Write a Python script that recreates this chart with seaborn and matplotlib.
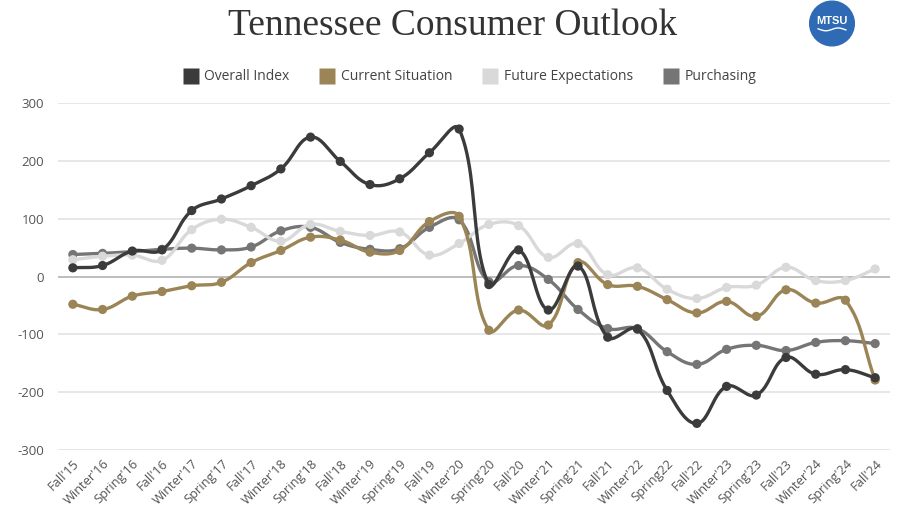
import numpy as np
import pandas as pd
import matplotlib
matplotlib.use("Agg")
import matplotlib.pyplot as plt
import seaborn as sns
from matplotlib.lines import Line2D
from matplotlib.patches import Circle

categories = ["Fall'15", "Winter'16", "Spring'16", "Fall'16", "Winter'17", "Spring'17",
              "Fall'17", "Winter'18", "Spring'18", "Fall'18", "Winter'19", "Spring'19",
              "Fall'19", "Winter'20", "Spring'20", "Fall'20", "Winter'21", "Spring'21",
              "Fall'21", "Winter'22", "Spring22", "Fall'22", "Winter'23", "Spring'23",
              "Fall'23", "Winter'24", "Spring'24", "Fall'24"]

overall_index = [15, 19, 44, 46, 114, 134, 157, 186, 241, 199, 159, 169, 214, 255,
                 -14, 46, -58, 18, -105, -91, -197, -254, -190, -205, -140, -169, -161, -175]
current_situation = [-48, -57, -34, -26, -16, -10, 24, 45, 68, 63, 42, 45, 95, 104,
                     -93, -58, -84, 24, -14, -17, -40, -63, -43, -69, -23, -46, -41, -179]
future_expectations = [29, 35, 37, 28, 81, 99, 85, 61, 90, 78, 71, 77, 37, 57,
                       90, 88, 33, 57, 3, 15, -22, -38, -19, -15, 16, -7, -7, 13]
purchasing = [38, 40, 43, 47, 49, 46, 51, 79, 85, 59, 47, 48, 85, 98,
              -9, 19, -5, -57, -90, -90, -130, -152, -126, -119, -128, -114, -111, -116]

series_names = ["Overall Index", "Current Situation", "Future Expectations", "Purchasing"]
series_values = [overall_index, current_situation, future_expectations, purchasing]
colors = ["#3b3b3b", "#9b8455", "#d9d9d9", "#757575"]

W, H = 905, 517
sns.set_theme(style="white")
plt.rcParams["font.family"] = ["Open Sans", "DejaVu Sans"]

fig = plt.figure(figsize=(W / 100, H / 100), dpi=100)
ax = fig.add_axes([58 / W, 1 - 450 / H, (890 - 58) / W, (450 - 103) / H])

XS, YS = 29.7, 0.58  # pixel scales used for spline smoothing


def smooth(xs, ys, tension=0.4, n=24):
    px = np.asarray(xs, float) * XS
    py = np.asarray(ys, float) * YS
    m = len(px)
    cp1 = np.zeros((m, 2))
    cp2 = np.zeros((m, 2))
    for i in range(m):
        p = np.array([px[i], py[i]])
        prev = np.array([px[max(i - 1, 0)], py[max(i - 1, 0)]])
        nxt = np.array([px[min(i + 1, m - 1)], py[min(i + 1, m - 1)]])
        d01 = np.hypot(*(p - prev))
        d12 = np.hypot(*(nxt - p))
        s = d01 + d12
        fa = tension * d01 / s if s else 0
        fb = tension * d12 / s if s else 0
        cp1[i] = p - fa * (nxt - prev)
        cp2[i] = p + fb * (nxt - prev)
    outx, outy = [], []
    t = np.linspace(0, 1, n)
    for i in range(m - 1):
        p0 = np.array([px[i], py[i]])
        p3 = np.array([px[i + 1], py[i + 1]])
        c1 = cp2[i]
        c2 = cp1[i + 1]
        b = ((1 - t) ** 3)[:, None] * p0 + (3 * (1 - t) ** 2 * t)[:, None] * c1 \
            + (3 * (1 - t) * t ** 2)[:, None] * c2 + (t ** 3)[:, None] * p3
        if i > 0:
            b = b[1:]
        outx.extend(b[:, 0] / XS)
        outy.extend(b[:, 1] / YS)
    return np.array(outx), np.array(outy)


# gridlines
for v in [-300, -200, -100, 100, 200, 300]:
    ax.axhline(v, color="#e3e3e3", lw=1.2, zorder=0)
ax.axhline(0, color="#bdbdbd", lw=1.4, zorder=0)

x_pos = np.arange(len(categories))
order = [3, 2, 1, 0]
for k, idx in enumerate(order):
    name, vals, col = series_names[idx], series_values[idx], colors[idx]
    sx, sy = smooth(x_pos, vals)
    curve = pd.DataFrame({"x": sx, "y": sy})
    sns.lineplot(data=curve, x="x", y="y", ax=ax, color=col, lw=2.4,
                 sort=False, estimator=None, zorder=2 + k)
    pts = pd.DataFrame({"x": x_pos, "y": vals})
    sns.scatterplot(data=pts, x="x", y="y", ax=ax, color=col, s=44,
                    edgecolor="none", zorder=2 + k, clip_on=False)

ax.set_xlim(-0.5, len(categories) - 0.5)
ax.set_ylim(-300, 300)
ax.set_yticks([-300, -200, -100, 0, 100, 200, 300])
ax.set_yticklabels(["-300", "-200", "-100", "0", "100", "200", "300"])
ax.set_xticks(x_pos)
ax.set_xticklabels(categories, rotation=45, ha="right", va="top", rotation_mode="anchor")
ax.tick_params(axis="y", colors="#555555", labelsize=9.5, length=0, pad=10)
ax.tick_params(axis="x", colors="#555555", labelsize=9.3, length=0, pad=5)
for lab in ax.get_xticklabels():
    lab.set_color("#555555")
ax.set_xlabel("")
ax.set_ylabel("")
for sp in ax.spines.values():
    sp.set_visible(False)
if ax.get_legend():
    ax.get_legend().remove()

# title
fig.text(0.50, 1 - 26 / H, "Tennessee Consumer Outlook", ha="center", va="center",
         fontsize=27, color="#333333", family=["Liberation Serif", "DejaVu Serif"])

# legend
handles = [Line2D([0], [0], marker="s", color="none", markerfacecolor=c,
                  markeredgecolor="none", markersize=12) for c in colors]
fig.legend(handles, series_names, loc="center", bbox_to_anchor=(470 / W, 1 - 77 / H),
           ncol=4, frameon=False, fontsize=10, handletextpad=0.5, columnspacing=2.2,
           labelcolor="#444444", handlelength=1.0)

# logo
lax = fig.add_axes([806 / W, 1 - 47 / H, 52 / W, 47 / H])
lax.set_xlim(-1, 1)
lax.set_ylim(-1, 1)
lax.set_aspect("equal")
lax.axis("off")
lax.add_patch(Circle((0, 0), 0.95, color="#2f6bb5"))
lax.text(0, 0.12, "MTSU", ha="center", va="center", color="white", fontsize=8,
         fontweight="bold", family=["Liberation Sans Narrow", "Liberation Sans", "DejaVu Sans"])
wx = np.linspace(-0.6, 0.6, 40)
lax.plot(wx, -0.25 + 0.06 * np.sin(wx * 6), color="white", lw=1)

fig.savefig("out.png", dpi=100)
